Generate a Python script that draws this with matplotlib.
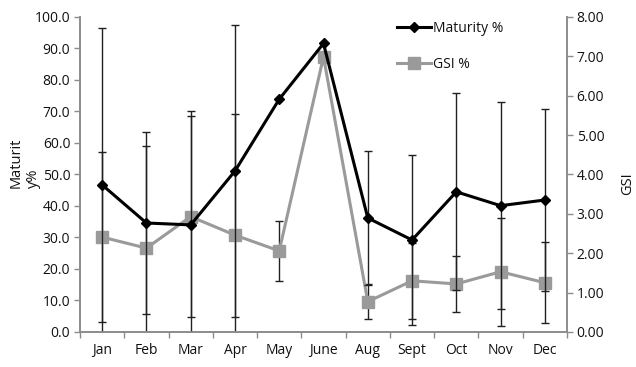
import matplotlib
matplotlib.use("Agg")
import matplotlib.pyplot as plt
from matplotlib.lines import Line2D
from matplotlib.ticker import FormatStrFormatter, FixedLocator
import numpy as np

months = ["Jan", "Feb", "Mar", "Apr", "May", "June", "Aug", "Sept", "Oct", "Nov", "Dec"]
maturity = [46.7, 34.6, 34.0, 51.1, 73.9, 91.6, 36.2, 29.2, 44.5, 40.1, 41.9]
maturity_err = [49.7, 29.0, 36.0, 46.5, 0.0, 0.0, 21.2, 27.0, 31.3, 32.9, 28.9]
gsi = [2.41, 2.13, 2.93, 2.46, 2.06, 6.99, 0.77, 1.30, 1.22, 1.53, 1.25]
gsi_err = [2.15, 2.59, 2.55, 3.07, 0.76, 0.0, 0.45, 0.97, 0.71, 1.37, 1.03]

plt.rcParams["font.family"] = ["Open Sans", "DejaVu Sans"]
TEXT = "#111111"
SPINE = "#8c8c8c"
GREY = "#9a9a9a"

fig = plt.figure(figsize=(6.36, 3.67), dpi=100)
ax = fig.add_axes([0.1258, 0.0954, 0.7657, 0.8583])
ax2 = ax.twinx()

x = np.arange(len(months))

# error bars first so the lines and markers sit on top
ax.errorbar(x, maturity, yerr=maturity_err, fmt="none", ecolor="#202020",
            elinewidth=1.0, capsize=3, capthick=1.0, zorder=1)
ax2.errorbar(x, gsi, yerr=gsi_err, fmt="none", ecolor="#202020",
             elinewidth=1.0, capsize=3, capthick=1.0, zorder=1)

ax.plot(x, maturity, color="black", lw=2.2, marker="D", markersize=5.5, zorder=3)
ax2.plot(x, gsi, color=GREY, lw=2.2, marker="s", markersize=8.5, zorder=3)

ax.set_zorder(ax2.get_zorder() + 1)
ax.patch.set_visible(False)

ax.set_xlim(-0.5, len(months) - 0.5)
ax.set_ylim(0, 100)
ax2.set_ylim(0, 8)
ax.set_yticks(np.arange(0, 101, 10))
ax2.set_yticks(np.arange(0, 8.01, 1))
ax.yaxis.set_major_formatter(FormatStrFormatter("%.1f"))
ax2.yaxis.set_major_formatter(FormatStrFormatter("%.2f"))

ax.set_xticks(x)
ax.set_xticklabels(months)
ax.xaxis.set_minor_locator(FixedLocator(np.arange(-0.5, len(months), 1.0)))
ax.tick_params(axis="x", which="major", length=0, pad=8, labelsize=10, labelcolor=TEXT)
ax.tick_params(axis="x", which="minor", length=4, color=SPINE, width=1)
ax.tick_params(axis="y", length=4, color=SPINE, width=1, labelsize=10, labelcolor=TEXT, pad=3)
ax2.tick_params(axis="y", length=4, color=SPINE, width=1, labelsize=10, labelcolor=TEXT, pad=3)

for a in (ax, ax2):
    a.spines["top"].set_visible(False)
    for side in ("left", "right", "bottom"):
        a.spines[side].set_color(SPINE)
        a.spines[side].set_linewidth(1.2)

fig.text(0.014, 0.488, "Maturit\ny%", rotation=90, ha="left", va="bottom",
         fontsize=10.5, color=TEXT, multialignment="left", linespacing=1.2)
fig.text(0.998, 0.50, "GSI", rotation=90, ha="right", va="center",
         fontsize=10.5, color=TEXT)

handles = [
    Line2D([], [], color="black", lw=2.2, marker="D", markersize=5.5),
    Line2D([], [], color=GREY, lw=2.2, marker="s", markersize=8.5),
]
fig.legend(handles, ["Maturity %", "GSI %"], loc="upper left",
           bbox_to_anchor=(0.604, 0.977), frameon=False, fontsize=10,
           handlelength=2.5, handletextpad=0.1, labelspacing=1.5,
           labelcolor=TEXT)

fig.savefig("out.png", dpi=100)
